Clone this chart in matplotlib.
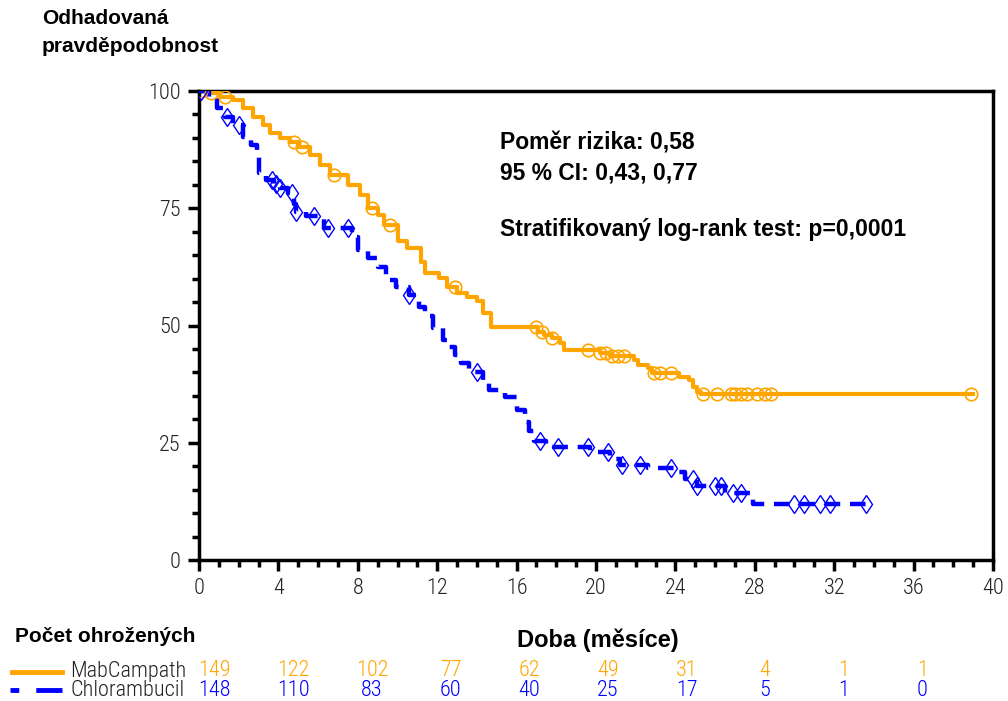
import numpy as np
import matplotlib
matplotlib.use('Agg')
import matplotlib.pyplot as plt
from matplotlib import font_manager
from matplotlib.lines import Line2D
from matplotlib.ticker import MultipleLocator
from matplotlib.transforms import blended_transform_factory

# Kaplan-Meier steps (months, % surviving)
mab_t = [0, 0.55, 1.06, 1.7, 2.2, 2.7, 3.2, 3.6, 4.1, 4.6, 5.0, 5.6, 6.1, 6.6, 7.5, 8.1,
         8.5, 9.0, 9.3, 10.0, 10.5, 11.2, 11.4, 12.1, 12.5, 13.0, 13.5, 14.0, 14.3, 14.7,
         17.1, 17.4, 17.8, 18.2, 18.4, 20.2, 20.7, 21.9, 22.1, 22.6, 22.8, 24.2, 24.7, 24.9,
         25.1, 25.3, 39.0]
mab_s = [100, 99.6, 98.7, 98.1, 96.4, 94.5, 92.8, 91.0, 90.0, 89.1, 88.0, 86.4, 84.2, 82.1, 80.0, 77.8,
         75.0, 73.5, 71.4, 68.0, 66.5, 63.5, 61.2, 60.1, 58.2, 57.0, 56.0, 55.2, 52.7, 49.6,
         48.6, 48.0, 47.4, 46.3, 44.8, 44.1, 43.5, 42.6, 41.6, 41.0, 39.9, 39.0, 38.4, 36.9,
         35.8, 35.4, 35.4]
mab_cens = [0.1, 0.6, 1.3, 4.8, 5.2, 6.8, 8.7, 9.6, 12.9, 17.0, 17.3, 17.8, 19.6, 20.2, 20.5,
            20.8, 21.1, 21.4, 22.9, 23.2, 23.8, 25.4, 26.1, 26.8, 27.0, 27.3, 27.6, 28.1, 28.5,
            28.8, 38.9]

chl_t = [0, 0.5, 0.9, 1.3, 1.7, 2.2, 2.6, 2.9, 3.0, 3.4, 3.8, 4.1, 4.5, 4.8, 4.9, 5.4,
         6.3, 7.7, 8.0, 8.5, 9.0, 9.4, 9.9, 10.6, 11.1, 11.4, 11.8, 12.3, 12.6, 12.9, 13.2,
         13.6, 14.3, 14.6, 15.4, 16.0, 16.4, 16.6, 16.9, 17.5, 19.7, 20.7, 21.2, 22.6, 24.2,
         24.5, 25.1, 26.5, 27.9, 33.7]
chl_s = [100, 98.5, 96.4, 94.5, 92.8, 90.2, 88.5, 85.9, 82.5, 81.0, 80.2, 79.3, 78.2, 76.0, 74.2, 73.4,
         70.8, 68.9, 66.1, 64.4, 62.5, 59.7, 58.2, 56.5, 54.0, 52.0, 49.5, 47.0, 45.5, 43.8, 42.0,
         40.0, 38.0, 36.2, 34.8, 32.0, 29.5, 27.5, 25.3, 24.0, 23.0, 21.5, 20.3, 19.6, 18.8,
         17.2, 15.8, 14.3, 12.0, 12.0]
chl_cens = [0.1, 1.4, 2.0, 3.7, 3.9, 4.1, 4.7, 4.9, 5.8, 6.5, 7.5, 10.6, 14.0, 17.2, 18.1,
            19.6, 20.6, 21.3, 22.2, 23.8, 24.9, 25.1, 26.0, 26.3, 26.9, 27.3, 30.0, 30.5,
            31.3, 31.8, 33.6]

# number at risk table
risk_times = [0, 4, 8, 12, 16, 20, 24, 28, 32, 36]
mab_risk = [149, 122, 102, 77, 62, 49, 31, 4, 1, 1]
chl_risk = [148, 110, 83, 60, 40, 25, 17, 5, 1, 0]

orange = '#FFA500'
blue = '#0000FF'
bold = ['Liberation Sans', 'DejaVu Sans']

# a condensed face for the thin axis numbers, if one is there
names = {f.name for f in font_manager.fontManager.ttflist}
cond = [n for n in ['Liberation Sans Narrow', 'Roboto Condensed', 'DejaVu Sans Condensed',
                    'Open Sans Condensed'] if n in names]
if cond:
    narrow = dict(family=[cond[0], 'DejaVu Sans'])
else:
    narrow = dict(family=['DejaVu Sans'], stretch='condensed')
narrow['weight'] = 'light'


def at(times, t, s):
    idx = np.searchsorted(times, t, side='right') - 1
    return np.asarray(s)[idx]


fig = plt.figure(figsize=(10.08, 7.01), dpi=100)
ax = fig.add_axes([199 / 1008, 1 - 560 / 701, (993 - 199) / 1008, (560 - 91) / 701])

ax.step(mab_t, mab_s, where='post', color=orange, lw=3, zorder=3)
ax.plot(mab_cens, at(mab_t, mab_cens, mab_s), 'o', mfc='none', mec=orange, ms=9, mew=1.2, zorder=4)

ax.step(chl_t, chl_s, where='post', color=blue, lw=3.2, linestyle=(0, (3.5, 2.2)), zorder=3)
ax.plot(chl_cens, at(chl_t, chl_cens, chl_s), 'd', mfc='none', mec=blue, ms=9.5, mew=1.0, zorder=4)

ax.set_xlim(0, 40)
ax.set_ylim(0, 100)
ax.xaxis.set_major_locator(MultipleLocator(4))
ax.xaxis.set_minor_locator(MultipleLocator(1))
ax.yaxis.set_major_locator(MultipleLocator(25))
ax.yaxis.set_minor_locator(MultipleLocator(5))
for s in ax.spines.values():
    s.set_linewidth(2.5)
    s.set_color('black')
ax.tick_params(which='major', direction='out', length=8, width=2.5, pad=5,
               top=False, right=False)
ax.tick_params(which='minor', direction='out', length=5, width=2.5, top=False, right=False)
for lab in ax.get_xticklabels() + ax.get_yticklabels():
    lab.set_fontproperties(font_manager.FontProperties(size=16, **narrow))
    lab.set_color('#222222')


def ftext(x, y, s, **kw):
    fig.text(x / 1008, 1 - y / 701, s, **kw)


ftext(42, 19, 'Odhadovaná', fontsize=15, fontweight='bold', family=bold, va='center')
ftext(42, 46, 'pravděpodobnost', fontsize=15, fontweight='bold', family=bold, va='center')

ftext(500, 143, 'Poměr rizika: 0,58', fontsize=16.5, fontweight='bold', family=bold, va='center')
ftext(500, 173, '95 % CI: 0,43, 0,77', fontsize=16.5, fontweight='bold', family=bold, va='center')
ftext(500, 230, 'Stratifikovaný log-rank test: p=0,0001', fontsize=16.5, fontweight='bold',
      family=bold, va='center')

ftext(15, 636, 'Počet ohrožených', fontsize=15, fontweight='bold', family=bold, va='center')
ftext(598, 640, 'Doba (měsíce)', fontsize=17, fontweight='bold', family=bold, va='center',
      ha='center')

# risk table legend samples
fig.add_artist(Line2D([12 / 1008, 62 / 1008], [1 - 672 / 701] * 2, color=orange, lw=3.5))
fig.add_artist(Line2D([10 / 1008, 62 / 1008], [1 - 690 / 701] * 2, color=blue, lw=3.5,
                      linestyle=(0, (1.8, 3.5, 9, 1))))
ftext(70, 671, 'MabCampath', fontsize=16, va='center', color='#222222', **narrow)
ftext(70, 690, 'Chlorambucil', fontsize=16, va='center', color='#222222', **narrow)

tr = blended_transform_factory(ax.transData, fig.transFigure)
for t, m, c in zip(risk_times, mab_risk, chl_risk):
    x = 0.8 + 0.99 * t
    ax.text(x, 1 - 671 / 701, str(m), transform=tr, ha='center', va='center',
            fontsize=16, color=orange, clip_on=False, **narrow)
    ax.text(x, 1 - 690 / 701, str(c), transform=tr, ha='center', va='center',
            fontsize=16, color=blue, clip_on=False, **narrow)

fig.savefig('out.png', dpi=100)
